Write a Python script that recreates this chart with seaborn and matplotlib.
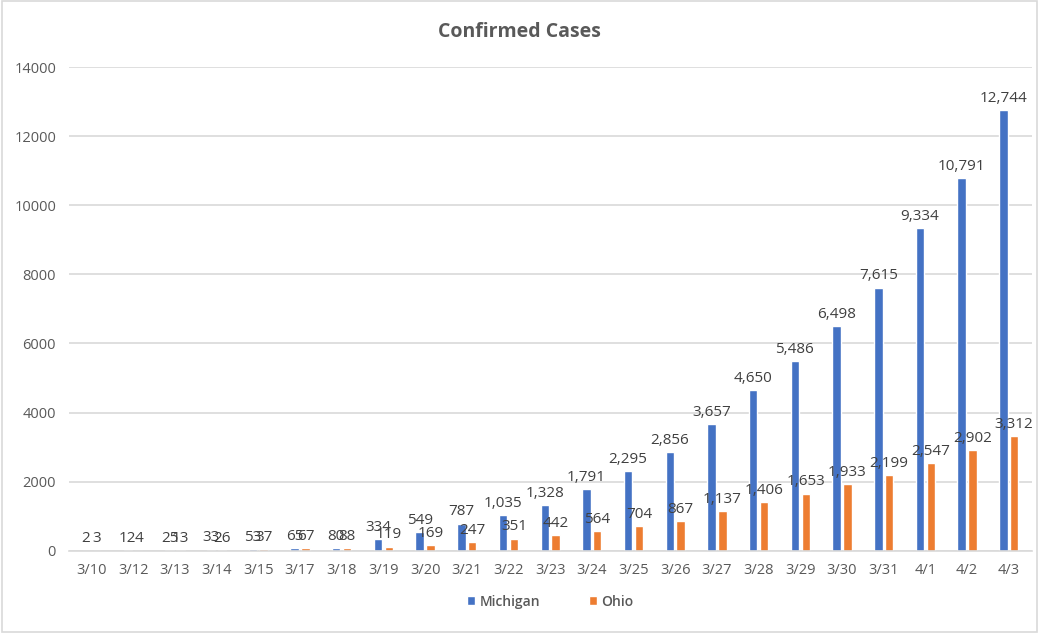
import pandas as pd
import matplotlib.pyplot as plt
import seaborn as sns

dates = ["3/10", "3/12", "3/13", "3/14", "3/15", "3/17", "3/18", "3/19", "3/20",
         "3/21", "3/22", "3/23", "3/24", "3/25", "3/26", "3/27", "3/28", "3/29",
         "3/30", "3/31", "4/1", "4/2", "4/3"]
michigan = [2, 12, 25, 33, 53, 65, 80, 334, 549, 787, 1035, 1328, 1791, 2295,
            2856, 3657, 4650, 5486, 6498, 7615, 9334, 10791, 12744]
ohio = [3, 4, 13, 26, 37, 67, 88, 119, 169, 247, 351, 442, 564, 704, 867,
        1137, 1406, 1653, 1933, 2199, 2547, 2902, 3312]

df = pd.DataFrame({"date": dates * 2,
                   "cases": michigan + ohio,
                   "state": ["Michigan"] * len(dates) + ["Ohio"] * len(dates)})

sns.set_theme(style="white")
plt.rcParams["font.family"] = ["Open Sans", "DejaVu Sans"]

fig = plt.figure(figsize=(10.39, 6.33), dpi=100)
ax = fig.add_axes([0.066, 0.13, 0.927, 0.764])

sns.barplot(data=df, x="date", y="cases", hue="state",
            palette=["#4472C4", "#ED7D31"], width=0.52, gap=0.22,
            saturation=1, ax=ax)

for c in ax.containers:
    ax.bar_label(c, labels=[f"{v:,.0f}" for v in c.datavalues],
                 padding=3, fontsize=11, color="#404040")

ax.set_ylim(0, 14000)
ax.set_yticks(range(0, 14001, 2000))
ax.yaxis.grid(True, color="#d9d9d9", linewidth=1.2)
ax.set_axisbelow(True)
for s in ["top", "right", "left"]:
    ax.spines[s].set_visible(False)
ax.spines["bottom"].set_color("#d9d9d9")
ax.spines["bottom"].set_linewidth(1.2)
ax.tick_params(axis="both", length=0, labelsize=10.5, labelcolor="#595959", pad=9)
ax.set_xlabel("")
ax.set_ylabel("")
ax.set_xlim(-0.55, len(dates) - 0.45)

fig.suptitle("Confirmed Cases", y=0.965, fontsize=14, fontweight="bold",
             color="#595959")

leg = ax.legend(loc="upper center", bbox_to_anchor=(0.5, -0.065), ncol=2,
                frameon=False, fontsize=10, handlelength=0.6, handleheight=0.6,
                columnspacing=3.5, handletextpad=0.3, labelcolor="#595959")
for t in leg.get_texts():
    t.set_fontweight("semibold")

fig.patches.append(plt.Rectangle((0.002, 0.002), 0.996, 0.996, fill=False,
                                 edgecolor="#d9d9d9", linewidth=1.2,
                                 transform=fig.transFigure))

fig.savefig("out.png", dpi=100)
